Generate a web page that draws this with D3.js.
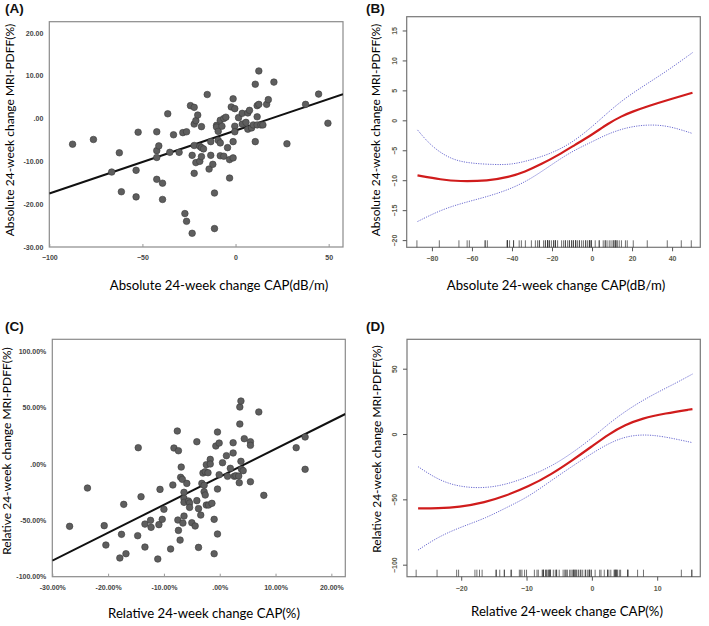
<!DOCTYPE html>
<html><head><meta charset="utf-8">
<script src="https://cdn.jsdelivr.net/npm/d3@7"></script>
<style>body{margin:0;background:#fff}svg{display:block}</style>
</head><body>
<svg id="c" width="709" height="626"></svg>
<script>
// ---------- DATA ----------
// Panel A: absolute change scatter (CAP dB/m, MRI-PDFF %)
const absCAP = [-87.5,-76.3,-66.5,-62.4,-61.3,-53.4,-53.4,-52.3,-42.3,-42.3,-42.3,-41.2,-42.3,-39.2,-39.2,-36.4,-35.3,-33.3,-30.3,-28.3,-27.2,-26.3,-26.3,-24.2,-23.3,-23.3,-22.2,-22.2,-22.2,-22.2,-21.3,-21.3,-20.3,-19.2,-19.2,-18.3,-18.3,-17.2,-18.3,-15.2,-14.2,-13.3,-13.3,-12.2,-11.3,-11.3,-10.2,-10.2,-9.3,-9.3,-8.2,-8.2,-8.2,-7.3,-6.3,-6.3,-5.2,-4.3,-3.2,-3.2,-2.3,-1.3,-1.3,-1.3,-0.4,-0.4,-0.4,1.6,3.6,3.6,5.6,6.6,6.6,7.5,8.6,9.5,10.6,10.6,11.6,11.6,11.6,12.5,12.5,13.6,14.7,16.7,17.6,20.6,27.6,37.6,44.6,49.6];
const absPDFF = [-6.0,-4.9,-12.5,-8.0,-17.1,-12.1,-18.3,-3.2,-3.1,-7.5,-9.1,-6.4,-14.2,-15.1,-18.9,1.1,-7.9,-3.8,-7.9,-3.3,-22.2,-24.0,-3.1,3.0,-8.6,-26.8,2.6,-6.3,-12.8,-1.3,-0.5,-10.3,0.8,-6.5,-10.0,-1.9,-6.8,-7.1,-8.9,5.6,-11.8,-5.4,-8.6,-10.7,-17.4,-25.7,-1.6,-2.0,-3.0,-5.1,-5.7,-0.4,-8.7,-1.8,0.0,-8.8,0.3,-6.8,-9.6,-13.9,2.7,4.6,-5.4,-9.2,2.3,-1.8,-3.1,0.2,1.2,-1.3,-0.9,1.3,-2.5,1.9,-2.2,-1.5,8.0,-5.4,3.0,0.4,-1.5,11.1,3.3,-1.5,-1.5,3.3,4.4,8.5,-5.9,3.3,5.7,-1.1];
const regA = [-2.8, 0.147]; // intercept, slope
const ticksAx = [-100,-50,0,50];
const ticksAy = [-30,-20,-10,0,10,20];

// Panel B: smooth curve fit (absolute)
const fitBx  = [-87.2,-75.2,-66.8,-51.8,-41.8,-33.5,-25.2,-16.8,-8.5,0,8.2,14.8,19.8,28.2,39.8,50.2];
const fitBy  = [-9.2,-9.9,-10.2,-10.1,-9.5,-8.6,-7.3,-5.8,-4.1,-2.4,-0.5,0.7,1.4,2.4,3.6,4.6];
const ciBx   = [-87.2,-80.2,-70.2,-60.2,-48.5,-40.2,-30.2,-20.2,-10.2,0,8.2,16.5,26.5,38.2,50.2];
const ciBup  = [-1.6,-4.4,-6.6,-7.2,-7.4,-7.4,-6.6,-5.5,-3.8,-1.1,1.4,3.7,5.9,8.4,11.3];
const ciBlx  = [-87.2,-75.2,-63.5,-51.8,-40.2,-30.2,-20.2,-10.2,0,8.2,18.2,28.2,38.2,50.2];
const ciBlo  = [-16.9,-14.9,-13.7,-12.7,-11.4,-9.7,-7.4,-5.2,-3.6,-2.2,-1.1,-0.7,-0.9,-2.2];
const ticksBx = [-80,-60,-40,-20,0,20,40];
const ticksBy = [-20,-15,-10,-5,0,5,10,15];

// Panel C: relative change scatter (CAP %, MRI-PDFF %)
const relCAP = [-26.9,-23.7,-20.7,-20.4,-17.9,-17.6,-17.2,-16.8,-14.7,-14.6,-14.1,-13.4,-13.4,-12.4,-12.3,-11.1,-10.9,-10.7,-10.3,-10.0,-8.8,-8.4,-8.2,-7.6,-7.5,-7.4,-7.4,-7.1,-7.0,-6.9,-6.7,-6.6,-6.4,-6.4,-6.4,-6.4,-5.9,-5.6,-5.4,-5.4,-5.0,-4.4,-4.1,-4.1,-3.8,-3.8,-3.4,-3.2,-3.0,-2.8,-2.8,-2.6,-2.6,-2.4,-2.4,-2.1,-2.0,-1.7,-1.7,-1.4,-1.0,-1.0,-0.7,-0.4,-0.4,-0.4,-0.1,-0.1,0.5,1.2,1.4,1.9,2.4,2.4,2.6,2.9,3.4,3.5,3.6,3.6,3.8,3.8,3.9,4.2,4.4,5.5,5.5,5.5,7.0,7.9,13.7,15.3,15.3];
const relPDFF = [-55.3,-21.3,-54.7,-71.9,-83.4,-62.4,-35.8,-79.6,-63.6,14.5,-29.0,-53.3,-73.7,-50.0,-56.2,-84.3,-53.8,-22.5,-49.1,-40.2,-75.4,-18.6,14.2,29.3,-49.7,11.8,-58.9,-67.5,-11.8,-2.7,-13.6,-52.4,-25.1,-30.5,-34.0,-46.2,-17.2,-32.8,-34.6,-38.5,-52.1,-55.0,19.8,-32.5,-39.6,-74.0,-45.3,-17.2,-8.0,-18.9,-24.6,-6.8,-27.5,-0.6,-36.4,-7.7,-36.4,4.1,0.0,-34.9,-49.1,-79.6,16.0,28.4,-22.2,-62.1,18.6,-9.5,1.2,7.4,-10.9,-3.8,18.9,9.8,-10.9,-10.4,-10.7,-16.6,35.5,50.6,55.9,2.4,-4.7,-5.9,22.5,19.8,16.6,-15.7,46.2,-27.8,14.5,24.0,-4.7];
const regC = [-11.4, 2.48];
const ticksCx = [-30,-20,-10,0,10,20];
const ticksCy = [-100,-50,0,50,100];

// Panel D: smooth curve fit (relative)
const fitDx  = [-26.6,-23.5,-20.4,-16.3,-13.3,-9.7,-6.1,-3.1,0,2.6,5.1,7.7,11.2,15.4];
const fitDy  = [-56.9,-56.9,-56.1,-52.3,-47.5,-40.3,-30.5,-20.5,-9.5,0.0,7.0,12.0,15.8,19.1];
const ciDux  = [-26.6,-23.5,-20.4,-16.8,-13.3,-9.7,-6.1,-3.1,0,2.6,6.1,9.7,12.8,15.4];
const ciDup  = [-25.0,-35.2,-40.3,-41.6,-39.0,-32.7,-24.5,-14.8,-3.3,8.2,20.9,31.1,38.8,45.9];
const ciDlx  = [-26.6,-23.5,-19.9,-16.3,-12.8,-9.7,-6.1,-3.1,0,2.6,5.1,7.7,10.7,15.4];
const ciDlo  = [-88.8,-78.6,-70.9,-64.5,-55.6,-48.0,-35.2,-25.0,-14.8,-7.1,-2.0,-0.3,-1.5,-6.6];
const ticksDx = [-20,-10,0,10];
const ticksDy = [-100,-50,0,50];

const panelLabels = ["(A)","(B)","(C)","(D)"];
const xTitles = ["Absolute 24-week change CAP(dB/m)","Absolute 24-week change CAP(dB/m)","Relative 24-week change CAP(%)","Relative 24-week change CAP(%)"];
const yTitles = ["Absolute 24-week change MRI-PDFF(%)","Absolute 24-week change MRI-PDFF(%)","Relative 24-week change MRI-PDFF(%)","Relative 24-week change MRI-PDFF(%)"];

// ---------- DRAW ----------
const svg = d3.select("#c");
const titleFont = "Lato, 'Open Sans', sans-serif";
const tickFont = "'Liberation Sans', Arial, sans-serif";

function frame(g, x, y, id, col){
  const [x0,x1]=x.range(), [y0,y1]=y.range();
  g.append("clipPath").attr("id",id).append("rect")
    .attr("x",x0).attr("y",y1).attr("width",x1-x0).attr("height",y0-y1);
  g.append("rect").attr("x",x0).attr("y",y1).attr("width",x1-x0).attr("height",y0-y1)
    .attr("fill","none").attr("stroke",col).attr("stroke-width",1.2);
}

function titles(i, px, py, yx, yy){
  svg.append("text").attr("x",px).attr("y",py).attr("text-anchor","middle")
    .attr("font-family",titleFont).attr("font-size",13.2).attr("fill","#000").text(xTitles[i]);
  svg.append("text").attr("transform",`translate(${yx},${yy}) rotate(-90)`).attr("text-anchor","middle")
    .attr("font-family",titleFont).attr("font-size",12).attr("fill","#000").text(yTitles[i]);
}

function label(i, lx, ly){
  svg.append("text").attr("x",lx).attr("y",ly).attr("font-family","'Liberation Sans', Arial, sans-serif")
    .attr("font-weight","bold").attr("font-size",13.5).attr("fill","#111").text(panelLabels[i]);
}

// SPSS-style scatter panel
function scatterPanel(i, xs, ys, reg, tx, ty, xd, yd, xr, yr, fx, fy, clipId){
  const x = d3.scaleLinear().domain(xd).range(xr);
  const y = d3.scaleLinear().domain(yd).range(yr);
  const g = svg.append("g");
  frame(g, x, y, clipId, "#8a8a8a");
  const ax = g.append("g").attr("transform",`translate(0,${yr[0]})`)
    .call(d3.axisBottom(x).tickValues(tx).tickSizeInner(-3).tickSizeOuter(0).tickPadding(8).tickFormat(fx));
  const ay = g.append("g").attr("transform",`translate(${xr[0]},0)`)
    .call(d3.axisLeft(y).tickValues(ty).tickSizeInner(0).tickSizeOuter(0).tickPadding(6).tickFormat(fy));
  [ax,ay].forEach(a=>{
    a.select(".domain").remove();
    a.selectAll("line").attr("stroke","#999");
    a.selectAll("text").attr("font-family",tickFont).attr("font-weight","bold").attr("font-size",7).attr("fill","#444");
  });
  const lx = [xd[0], xd[1]];
  g.append("line").attr("clip-path",`url(#${clipId})`)
    .attr("x1",x(lx[0])).attr("y1",y(reg[0]+reg[1]*lx[0]))
    .attr("x2",x(lx[1])).attr("y2",y(reg[0]+reg[1]*lx[1]))
    .attr("stroke","#111").attr("stroke-width",2);
  g.append("g").selectAll("circle").data(xs.map((v,k)=>[v,ys[k]])).join("circle")
    .attr("cx",d=>x(d[0])).attr("cy",d=>y(d[1])).attr("r",3.3)
    .attr("fill","#5e5e5e").attr("stroke","#3a3a3a").attr("stroke-width",0.6);
}

// R-style smooth panel
function smoothPanel(fx, fy, ux, uy, lx, ly, rug, tx, ty, xd, yd, xr, yr, clipId){
  const x = d3.scaleLinear().domain(xd).range(xr);
  const y = d3.scaleLinear().domain(yd).range(yr);
  const g = svg.append("g");
  frame(g, x, y, clipId, "#777");
  const ax = g.append("g").attr("transform",`translate(0,${yr[0]})`)
    .call(d3.axisBottom(x).tickValues(tx).tickSize(4).tickPadding(5).tickFormat(d3.format("d")));
  const ay = g.append("g").attr("transform",`translate(${xr[0]},0)`)
    .call(d3.axisLeft(y).tickValues(ty).tickSize(4).tickPadding(4).tickFormat(d3.format("d")));
  [ax,ay].forEach(a=>{
    a.select(".domain").remove();
    a.selectAll("line").attr("stroke","#555");
    a.selectAll("text").attr("font-family",tickFont).attr("font-weight","bold").attr("font-size",7).attr("fill","#5a5a4a");
  });
  ay.selectAll("text").attr("text-anchor","middle").attr("dy",null)
    .attr("transform",function(){ const t=d3.select(this); const xx=+t.attr("x"); return `translate(${xx-2},0) rotate(-90)`; })
    .attr("x",0).attr("y",0);
  // rug
  g.append("g").selectAll("line").data(rug).join("line")
    .attr("x1",d=>x(d)).attr("x2",d=>x(d)).attr("y1",yr[0]).attr("y2",yr[0]-7)
    .attr("stroke","#333").attr("stroke-width",0.7);
  const line = d3.line().curve(d3.curveBasis);
  const cg = g.append("g").attr("clip-path",`url(#${clipId})`);
  cg.append("path").attr("d",line(ux.map((v,k)=>[x(v),y(uy[k])])))
    .attr("fill","none").attr("stroke","#6d6dd0").attr("stroke-width",1).attr("stroke-dasharray","1.2,1.2");
  cg.append("path").attr("d",line(lx.map((v,k)=>[x(v),y(ly[k])])))
    .attr("fill","none").attr("stroke","#6d6dd0").attr("stroke-width",1).attr("stroke-dasharray","1.2,1.2");
  cg.append("path").attr("d",line(fx.map((v,k)=>[x(v),y(fy[k])])))
    .attr("fill","none").attr("stroke","#d01c1c").attr("stroke-width",2.2);
}

const fmtA = d => d===0 ? ".00" : d.toFixed(2);
const fmtC = d => d===0 ? ".00%" : d.toFixed(2)+"%";
const fmtInt = d3.format("d");

scatterPanel(0, absCAP, absPDFF, regA, ticksAx, ticksAy, [-100,57.7], [-30,22.6], [49.3,343], [247,21.7], fmtInt, fmtA, "clipA");
smoothPanel(fitBx, fitBy, ciBx, ciBup, ciBlx, ciBlo, absCAP, ticksBx, ticksBy, [-92.6,54.1], [-21.2,17.3], [406.7,700.3], [247.3,16.7], "clipB");
scatterPanel(2, relCAP, relPDFF, regC, ticksCx, ticksCy, [-30,22.5], [-100,110.7], [52.3,345.3], [576.7,339.3], fmtC, fmtC, "clipC");
smoothPanel(fitDx, fitDy, ciDux, ciDup, ciDlx, ciDlo, relCAP, ticksDx, ticksDy, [-28.3,16.6], [-109.2,72.5], [407,700.3], [576.7,339.3], "clipD");

label(0, 5, 13); label(1, 366, 13); label(2, 5, 331); label(3, 366, 331);
titles(0, 219, 290, 14, 130);
titles(1, 556, 290, 380, 130);
titles(2, 204, 618, 11, 451);
titles(3, 567, 616, 381, 449);
</script>
</body></html>
